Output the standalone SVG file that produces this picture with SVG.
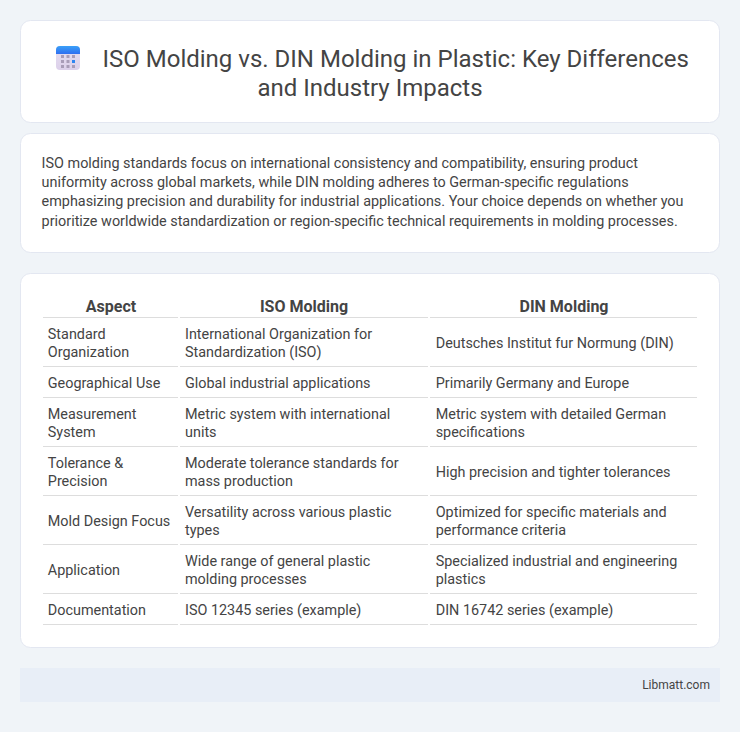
<svg xmlns="http://www.w3.org/2000/svg" width="740" height="732" viewBox="0 0 740 732">
<defs>
<linearGradient id="ic" x1="0" y1="0" x2="0" y2="1"><stop offset="0" stop-color="#e6dff0"/><stop offset="1" stop-color="#dcd0ea"/></linearGradient>
<linearGradient id="ih" x1="0" y1="0" x2="0" y2="1"><stop offset="0" stop-color="#3aa0f8"/><stop offset="1" stop-color="#2f6ff0"/></linearGradient>
</defs>
<style>
text{font-family:Roboto,"Liberation Sans",sans-serif;fill:#444}
.card{fill:#fff;stroke:#e3e7f1;stroke-width:1}
.t{font-size:24px;text-anchor:middle}
.p{font-size:14.4px}
.h{font-size:16px;font-weight:700;text-anchor:middle}
.c{font-size:14.4px}
.l{stroke:#dddddd;stroke-width:1;fill:none}
.d{fill:#a99db8}
</style>
<rect width="740" height="732" fill="#f0f4f8"/>
<g id="header">
<rect class="card" x="20.500" y="20.500" width="699" height="102" rx="10"/>
<g id="icon">
<rect x="56" y="46" width="24" height="24" rx="4" fill="url(#ic)"/>
<path d="M56 54v-4a4 4 0 0 1 4-4h16a4 4 0 0 1 4 4v4z" fill="url(#ih)"/>
<rect class="d" x="61" y="55" width="3" height="3"/><rect class="d" x="66.500" y="55" width="3" height="3"/><rect class="d" x="72" y="55" width="3" height="3"/>
<rect class="d" x="61" y="60" width="3" height="3"/><rect class="d" x="66.500" y="60" width="3" height="3"/><rect x="72" y="60" width="3" height="3" fill="#2f86f0"/>
<rect class="d" x="61" y="65" width="3" height="3"/><rect class="d" x="66.500" y="65" width="3" height="3"/><rect class="d" x="72" y="65" width="3" height="3"/>
</g>
<text class="t" x="395.700" y="67">ISO Molding vs. DIN Molding in Plastic: Key Differences</text>
<text class="t" x="370" y="96">and Industry Impacts</text>
</g>
<g id="summary">
<rect class="card" x="20.500" y="133.500" width="699" height="119" rx="10"/>
<text class="p" x="41.600" y="168">ISO molding standards focus on international consistency and compatibility, ensuring product</text>
<text class="p" x="41.600" y="187">uniformity across global markets, while DIN molding adheres to German-specific regulations</text>
<text class="p" x="41.600" y="206">emphasizing precision and durability for industrial applications. Your choice depends on whether you</text>
<text class="p" x="41.600" y="226">prioritize worldwide standardization or region-specific technical requirements in molding processes.</text>
</g>
<g id="table">
<rect class="card" x="20.500" y="273.500" width="699" height="374" rx="10"/>
<text class="h" x="111" y="312">Aspect</text><text class="h" x="304" y="312">ISO Molding</text><text class="h" x="564" y="312">DIN Molding</text>
<g id="rules">
<path class="l" d="M43 317.500H178M180 317.500H428M430 317.500H697"/>
<path class="l" d="M43 366.500H178M180 366.500H428M430 366.500H697"/>
<path class="l" d="M43 397.500H178M180 397.500H428M430 397.500H697"/>
<path class="l" d="M43 446.500H178M180 446.500H428M430 446.500H697"/>
<path class="l" d="M43 495.500H178M180 495.500H428M430 495.500H697"/>
<path class="l" d="M43 544.500H178M180 544.500H428M430 544.500H697"/>
<path class="l" d="M43 593.500H178M180 593.500H428M430 593.500H697"/>
<path class="l" d="M43 624.500H178M180 624.500H428M430 624.500H697"/>
</g>
<text class="c" x="47.800" y="339">Standard</text><text class="c" x="47.800" y="357">Organization</text>
<text class="c" x="185" y="339">International Organization for</text><text class="c" x="185" y="357">Standardization (ISO)</text>
<text class="c" x="435.700" y="348">Deutsches Institut fur Normung (DIN)</text>
<text class="c" x="47.800" y="388">Geographical Use</text><text class="c" x="185" y="388">Global industrial applications</text><text class="c" x="435.700" y="388">Primarily Germany and Europe</text>
<text class="c" x="47.800" y="419">Measurement</text><text class="c" x="47.800" y="437">System</text>
<text class="c" x="185" y="419">Metric system with international</text><text class="c" x="185" y="437">units</text>
<text class="c" x="435.700" y="419">Metric system with detailed German</text><text class="c" x="435.700" y="437">specifications</text>
<text class="c" x="47.800" y="468">Tolerance &amp;</text><text class="c" x="47.800" y="486">Precision</text>
<text class="c" x="185" y="468">Moderate tolerance standards for</text><text class="c" x="185" y="486">mass production</text>
<text class="c" x="435.700" y="477">High precision and tighter tolerances</text>
<text class="c" x="47.800" y="526">Mold Design Focus</text>
<text class="c" x="185" y="517">Versatility across various plastic</text><text class="c" x="185" y="535">types</text>
<text class="c" x="435.700" y="517">Optimized for specific materials and</text><text class="c" x="435.700" y="535">performance criteria</text>
<text class="c" x="47.800" y="575">Application</text>
<text class="c" x="185" y="566">Wide range of general plastic</text><text class="c" x="185" y="584">molding processes</text>
<text class="c" x="435.700" y="566">Specialized industrial and engineering</text><text class="c" x="435.700" y="584">plastics</text>
<text class="c" x="47.800" y="615">Documentation</text><text class="c" x="185" y="615">ISO 12345 series (example)</text><text class="c" x="435.700" y="615">DIN 16742 series (example)</text>
</g>
<g id="footer">
<rect x="20" y="668" width="700" height="34" fill="#e8eef7"/>
<text x="710" y="689" font-size="12" text-anchor="end">Libmatt.com</text>
</g>
</svg>
